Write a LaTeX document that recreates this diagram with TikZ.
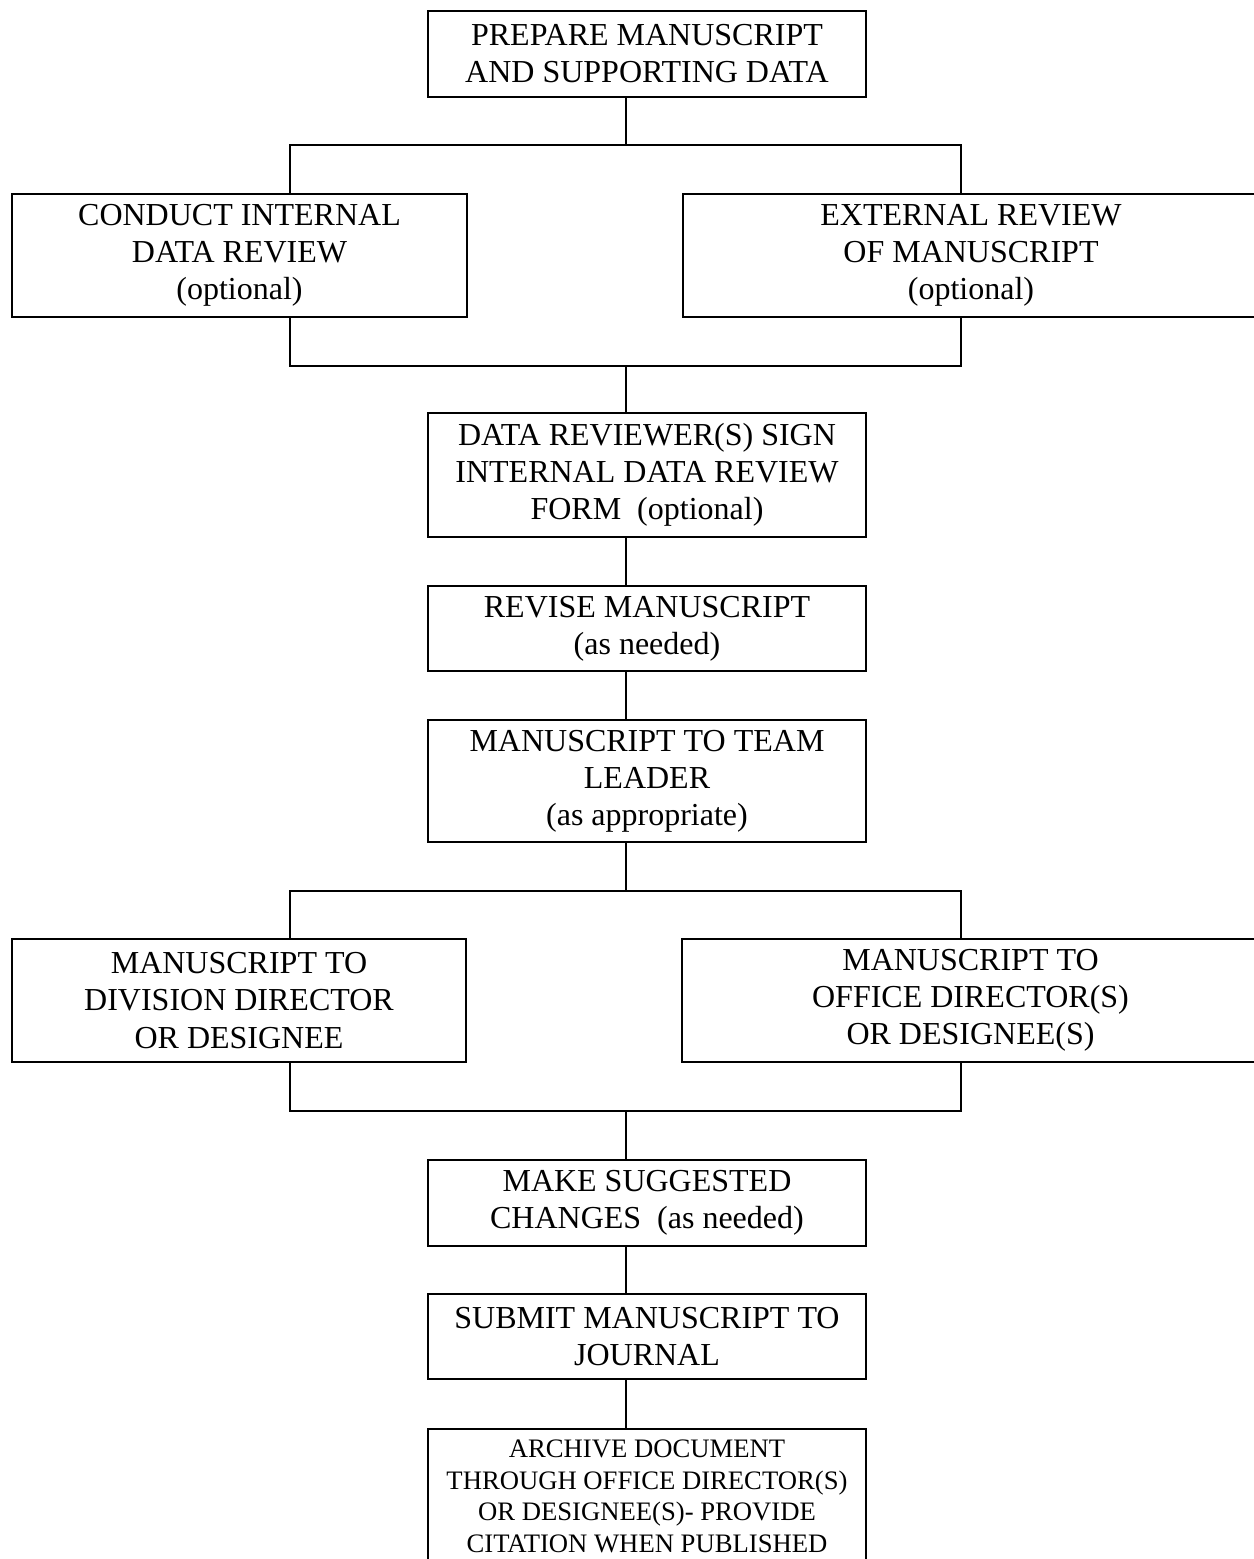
\documentclass[tikz,border=0pt]{standalone}
\usepackage{fontspec}
\setmainfont{Liberation Serif}
\usetikzlibrary{positioning}

\def\px{0.375pt}
\tikzset{
  stepbox/.style 2 args={draw, line width=0.8pt, align=center, inner sep=0pt,
    minimum width=#1*\px, minimum height=#2*\px,
    font=\fontsize{12}{13.9}\selectfont},
  smalltext/.style={font=\fontsize{10}{11.8}\selectfont},
  link/.style={line width=0.8pt}
}

\begin{document}
\begin{tikzpicture}[x=\px, y=-\px]
  %% Page frame (in pixels of the original sheet)
  \useasboundingbox (0,0) rectangle (1254,1559);
  %% Where the spine and the branches run
  \coordinate (spine) at (626,0);
  \coordinate (lbranch) at (290,0);
  \coordinate (rbranch) at (961,0);
  \coordinate (split1) at (626,145);
  \coordinate (join1) at (626,366);
  \coordinate (split2) at (626,891);
  \coordinate (join2) at (626,1111);
  %% Boxes
  \node[stepbox={438}{86}] (prep) at (647,54) {PREPARE MANUSCRIPT\\AND SUPPORTING DATA};
  \node[stepbox={455}{123}] (intrev) at (239.5,255.5) {CONDUCT INTERNAL\\DATA REVIEW\\(optional)};
  \node[stepbox={576}{123}] (extrev) at (971,255.5) {EXTERNAL REVIEW\\OF MANUSCRIPT\\(optional)};
  \node[stepbox={438}{124}] (sign) at (647,475) {DATA REVIEWER(S) SIGN\\INTERNAL DATA REVIEW\\FORM~ (optional)};
  \node[stepbox={438}{85}] (revise) at (647,628.5) {REVISE MANUSCRIPT\\(as needed)};
  \node[stepbox={438}{122}] (leader) at (647,781) {MANUSCRIPT TO TEAM\\LEADER\\(as appropriate)};
  \node[stepbox={454}{123}] (divdir) at (239,1000.5) {MANUSCRIPT TO\\DIVISION DIRECTOR\\OR DESIGNEE};
  \node[stepbox={577}{123}] (offdir) at (970.5,1000.5) {MANUSCRIPT TO\\OFFICE DIRECTOR(S)\\OR DESIGNEE(S)};
  \node[stepbox={438}{86}] (changes) at (647,1203) {MAKE SUGGESTED\\CHANGES~ (as needed)};
  \node[stepbox={438}{85}] (submit) at (647,1336.5) {SUBMIT MANUSCRIPT TO\\JOURNAL};
  \node[stepbox={438}{135}, smalltext] (archive) at (647,1496.5) {ARCHIVE DOCUMENT\\THROUGH OFFICE DIRECTOR(S)\\OR DESIGNEE(S)- PROVIDE\\CITATION WHEN PUBLISHED};
  %% First fork
  \draw[link] (prep.south -| spine) -- (split1);
  \draw[link] (intrev.north -| lbranch) |- (split1) -| (extrev.north -| rbranch);
  \draw[link] (intrev.south -| lbranch) |- (join1) -| (extrev.south -| rbranch);
  \draw[link] (join1) -- (sign.north -| spine);
  %% Second fork
  \draw[link] (leader.south -| spine) -- (split2);
  \draw[link] (divdir.north -| lbranch) |- (split2) -| (offdir.north -| rbranch);
  \draw[link] (divdir.south -| lbranch) |- (join2) -| (offdir.south -| rbranch);
  \draw[link] (join2) -- (changes.north -| spine);
  %% Straight steps
  \foreach \a/\b in {sign/revise, revise/leader, changes/submit, submit/archive}
    \draw[link] (\a.south -| spine) -- (\b.north -| spine);
\end{tikzpicture}
\end{document}
